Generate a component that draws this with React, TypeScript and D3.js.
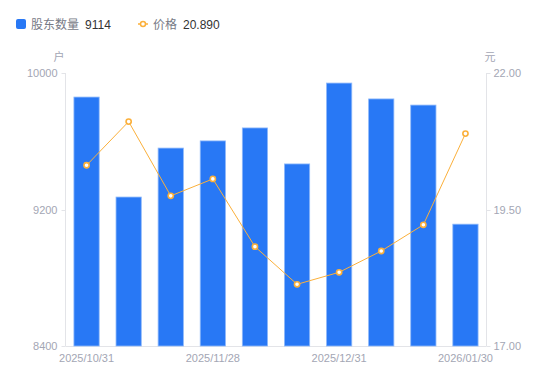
import React from "react";
import * as d3 from "d3";

const dates = ["2025/10/31", "2025/11/10", "2025/11/20", "2025/11/28", "2025/12/10", "2025/12/19", "2025/12/31", "2026/01/09", "2026/01/20", "2026/01/30"];
const holders = [9859, 9273, 9560, 9602, 9678, 9467, 9941, 9848, 9812, 9114];
const prices = [20.31, 21.11, 19.75, 20.06, 18.82, 18.13, 18.35, 18.74, 19.22, 20.89];
const leftTicks = [8400, 9200, 10000];
const rightTicks = [17, 19.5, 22];
const shownLabels = [0, 3, 6, 9];

const W = 550, H = 381;
const L = 65.5, R = 486.5, T = 73, B = 346;
const tickColor = "#a3a6b4";
const axisColor = "#e3e4e8";
const barColor = "#2878f5";
const lineColor = "#fbb03b";
const font = "'Liberation Sans', 'Noto Sans CJK SC', sans-serif";

export default function App() {
  const x = d3.scaleBand<number>().domain(d3.range(dates.length)).range([L, R]).paddingInner(0.4).paddingOuter(0.2);
  const yL = d3.scaleLinear().domain([8400, 10000]).range([B, T]);
  const yR = d3.scaleLinear().domain([17, 22]).range([B, T]);
  const cx = (i: number) => (x(i) as number) + x.bandwidth() / 2;
  const line = d3.line<number>().x((_, i) => cx(i)).y((d) => yR(d));

  return (
    <svg width={W} height={H} style={{ position: "absolute", left: 0, top: 0, fontFamily: font }}>
      <rect x={0} y={0} width={W} height={H} fill="#fff" />
      {/* legend */}
      <rect x={16} y={19} width={10} height={10} rx={2} fill={barColor} />
      <text x={31} y={28.5} fontSize={12} fill="#777a86">股东数量</text>
      <text x={85} y={28.5} fontSize={12} fill="#333">9114</text>
      <line x1={138} y1={24} x2={148} y2={24} stroke={lineColor} strokeWidth={1.5} />
      <circle cx={143} cy={24} r={2.5} fill="#fff" stroke={lineColor} strokeWidth={1.5} />
      <text x={153} y={28.5} fontSize={12} fill="#777a86">价格</text>
      <text x={183} y={28.5} fontSize={12} fill="#333">20.890</text>
      {/* units */}
      <text x={59} y={61} fontSize={11} fill={tickColor} textAnchor="middle">户</text>
      <text x={490} y={61} fontSize={11} fill={tickColor} textAnchor="middle">元</text>
      {/* axes */}
      <line x1={L} y1={T} x2={L} y2={B} stroke={axisColor} />
      <line x1={R} y1={T} x2={R} y2={B} stroke={axisColor} />
      <line x1={L} y1={B + 0.5} x2={R} y2={B + 0.5} stroke={axisColor} />
      {leftTicks.map((t) => (
        <g key={"l" + t}>
          <line x1={L - 4} y1={Math.round(yL(t)) + 0.5} x2={L} y2={Math.round(yL(t)) + 0.5} stroke={axisColor} />
          <text x={L - 8} y={yL(t) + 4} fontSize={11} fill={tickColor} textAnchor="end">{t}</text>
        </g>
      ))}
      {rightTicks.map((t) => (
        <g key={"r" + t}>
          <line x1={R} y1={Math.round(yR(t)) + 0.5} x2={R + 4} y2={Math.round(yR(t)) + 0.5} stroke={axisColor} />
          <text x={R + 7} y={yR(t) + 4} fontSize={11} fill={tickColor} textAnchor="start">{t.toFixed(2)}</text>
        </g>
      ))}
      {shownLabels.map((i) => (
        <text key={"x" + i} x={cx(i)} y={362} fontSize={11} fill={tickColor} textAnchor="middle">{dates[i]}</text>
      ))}
      {/* bars */}
      {holders.map((v, i) => (
        <rect key={"b" + i} x={(x(i) as number)} y={yL(v)} width={x.bandwidth()} height={B - yL(v)}
          fill={barColor} stroke="#8fb9fa" strokeWidth={0.8} />
      ))}
      {/* line */}
      <path d={line(prices) || ""} fill="none" stroke={lineColor} strokeWidth={1} />
      {prices.map((p, i) => (
        <circle key={"p" + i} cx={cx(i)} cy={yR(p)} r={2.6} fill="#fff" stroke={lineColor} strokeWidth={1.6} />
      ))}
    </svg>
  );
}
